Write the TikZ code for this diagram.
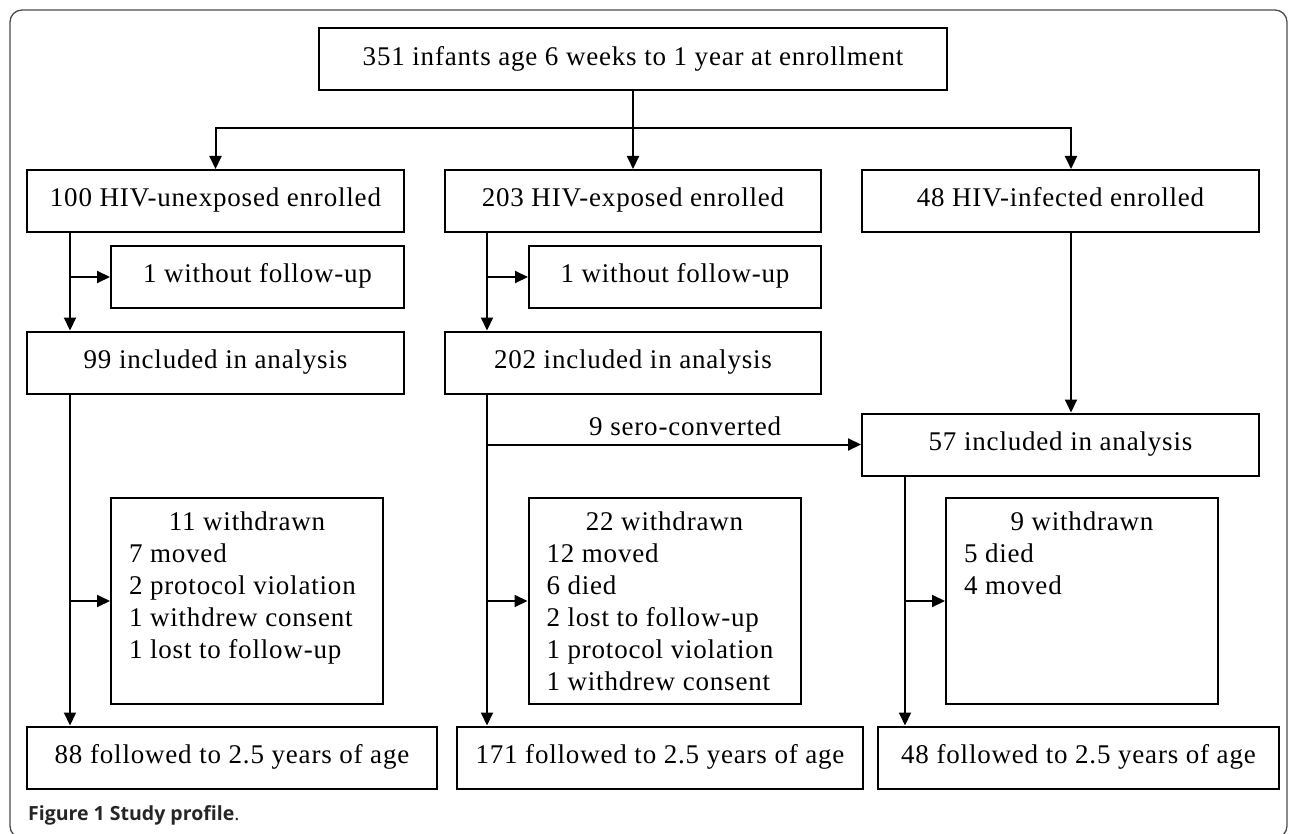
\documentclass[tikz,border=0pt]{standalone}
\usepackage{fontspec}
\setmainfont{Liberation Serif}[LetterSpace=3]
\newfontfamily\captionsans{Open Sans}
\usetikzlibrary{arrows.meta,positioning,calc}

\newcommand{\wdlist}[2]{\parbox[c][178pt][t]{236pt}{{\centering #1\par}\raggedright #2}}

\begin{document}
\begin{tikzpicture}[
    x=1pt, y=-1pt,
    font=\fontsize{27}{32}\selectfont,
    flowbox/.style={rectangle, draw, line width=2pt, minimum height=62pt, inner sep=0pt, text height=18pt, text depth=6pt, align=center},
    listbox/.style={rectangle, draw, line width=2pt, inner xsep=18pt, inner ysep=14pt},
    arrow/.style={-{Triangle[length=13pt, width=12pt]}, line width=2pt},
    outerframe/.style={draw=black!70, line width=1.3pt, rounded corners=12pt}
]
    \useasboundingbox (0,0) rectangle (1290,834);
    \clip (0,0) rectangle (1290,834);
    \draw[outerframe] (10,10) rectangle (1287,838);

    % Enrollment
    \node[flowbox, minimum width=628pt] (enrol) at (633,59.5) {351 infants age 6 weeks to 1 year at enrollment};

    % Groups at enrollment
    \node[flowbox, minimum width=377pt] (unexp) at (215.5,201) {100 HIV-unexposed enrolled};
    \node[flowbox, minimum width=376pt] (exp) at (633,201) {203 HIV-exposed enrolled};
    \node[flowbox, minimum width=397pt] (inf) at (1060.5,201) {48 HIV-infected enrolled};

    % Without follow-up
    \node[flowbox, minimum width=293pt] (nofuA) at (257.5,277) {1 without follow-up};
    \node[flowbox, minimum width=292pt] (nofuB) at (675,277) {1 without follow-up};

    % Included in analysis
    \node[flowbox, minimum width=377pt] (inclA) at (215.5,362.5) {99 included in analysis};
    \node[flowbox, minimum width=376pt] (inclB) at (633,362.5) {202 included in analysis};
    \node[flowbox, minimum width=397pt] (inclC) at (1060.5,444.5) {57 included in analysis};

    % Withdrawn
    \node[listbox] (wdA) at (247,601) {\wdlist{11 withdrawn}{7 moved\\2 protocol violation\\1 withdrew consent\\1 lost to follow-up}};
    \node[listbox] (wdB) at (664.5,601) {\wdlist{22 withdrawn}{12 moved\\6 died\\2 lost to follow-up\\1 protocol violation\\1 withdrew consent}};
    \node[listbox] (wdC) at (1082,601) {\wdlist{9 withdrawn}{5 died\\4 moved}};

    % Followed to 2.5 years
    \node[flowbox, minimum width=410pt] (folA) at (232,757.5) {88 followed to 2.5 years of age};
    \node[flowbox, minimum width=406pt] (folB) at (660,757.5) {171 followed to 2.5 years of age};
    \node[flowbox, minimum width=401pt] (folC) at (1078.5,757.5) {48 followed to 2.5 years of age};

    % Lanes
    \coordinate (split) at (633,128);
    \coordinate (laneA) at (70,0);
    \coordinate (laneB) at (487,0);
    \coordinate (laneC) at (905,0);
    \coordinate (laneI) at (1071,0);

    % Connections
    \draw[arrow] (enrol.south) -- (exp.north);
    \draw[arrow] (split) -| (unexp.north);
    \draw[arrow] (split) -| (laneI |- inf.north);

    \draw[arrow] (laneA |- unexp.south) -- (laneA |- inclA.north);
    \draw[arrow] (laneA |- nofuA.west) -- (nofuA.west);
    \draw[arrow] (laneA |- inclA.south) -- (laneA |- folA.north);
    \draw[arrow] (laneA |- wdA.west) -- (wdA.west);

    \draw[arrow] (laneB |- exp.south) -- (laneB |- inclB.north);
    \draw[arrow] (laneB |- nofuB.west) -- (nofuB.west);
    \draw[arrow] (laneB |- inclB.south) -- (laneB |- folB.north);
    \draw[arrow] (laneB |- wdB.west) -- (wdB.west);
    \draw[arrow] (laneB |- inclC.west) -- node[above, pos=0.53, inner sep=8pt] (sero) {9 sero-converted} (inclC.west);

    \draw[arrow] (laneI |- inf.south) -- (laneI |- inclC.north);
    \draw[arrow] (laneC |- inclC.south) -- (laneC |- folC.north);
    \draw[arrow] (laneC |- wdC.west) -- (wdC.west);

    % Caption
    \node[anchor=base west, inner sep=0pt, font=\captionsans\fontsize{19.5}{22}\selectfont, text=black!85] (caption) at (28,820) {\textbf{Figure 1 Study profile}.};
\end{tikzpicture}
\end{document}
